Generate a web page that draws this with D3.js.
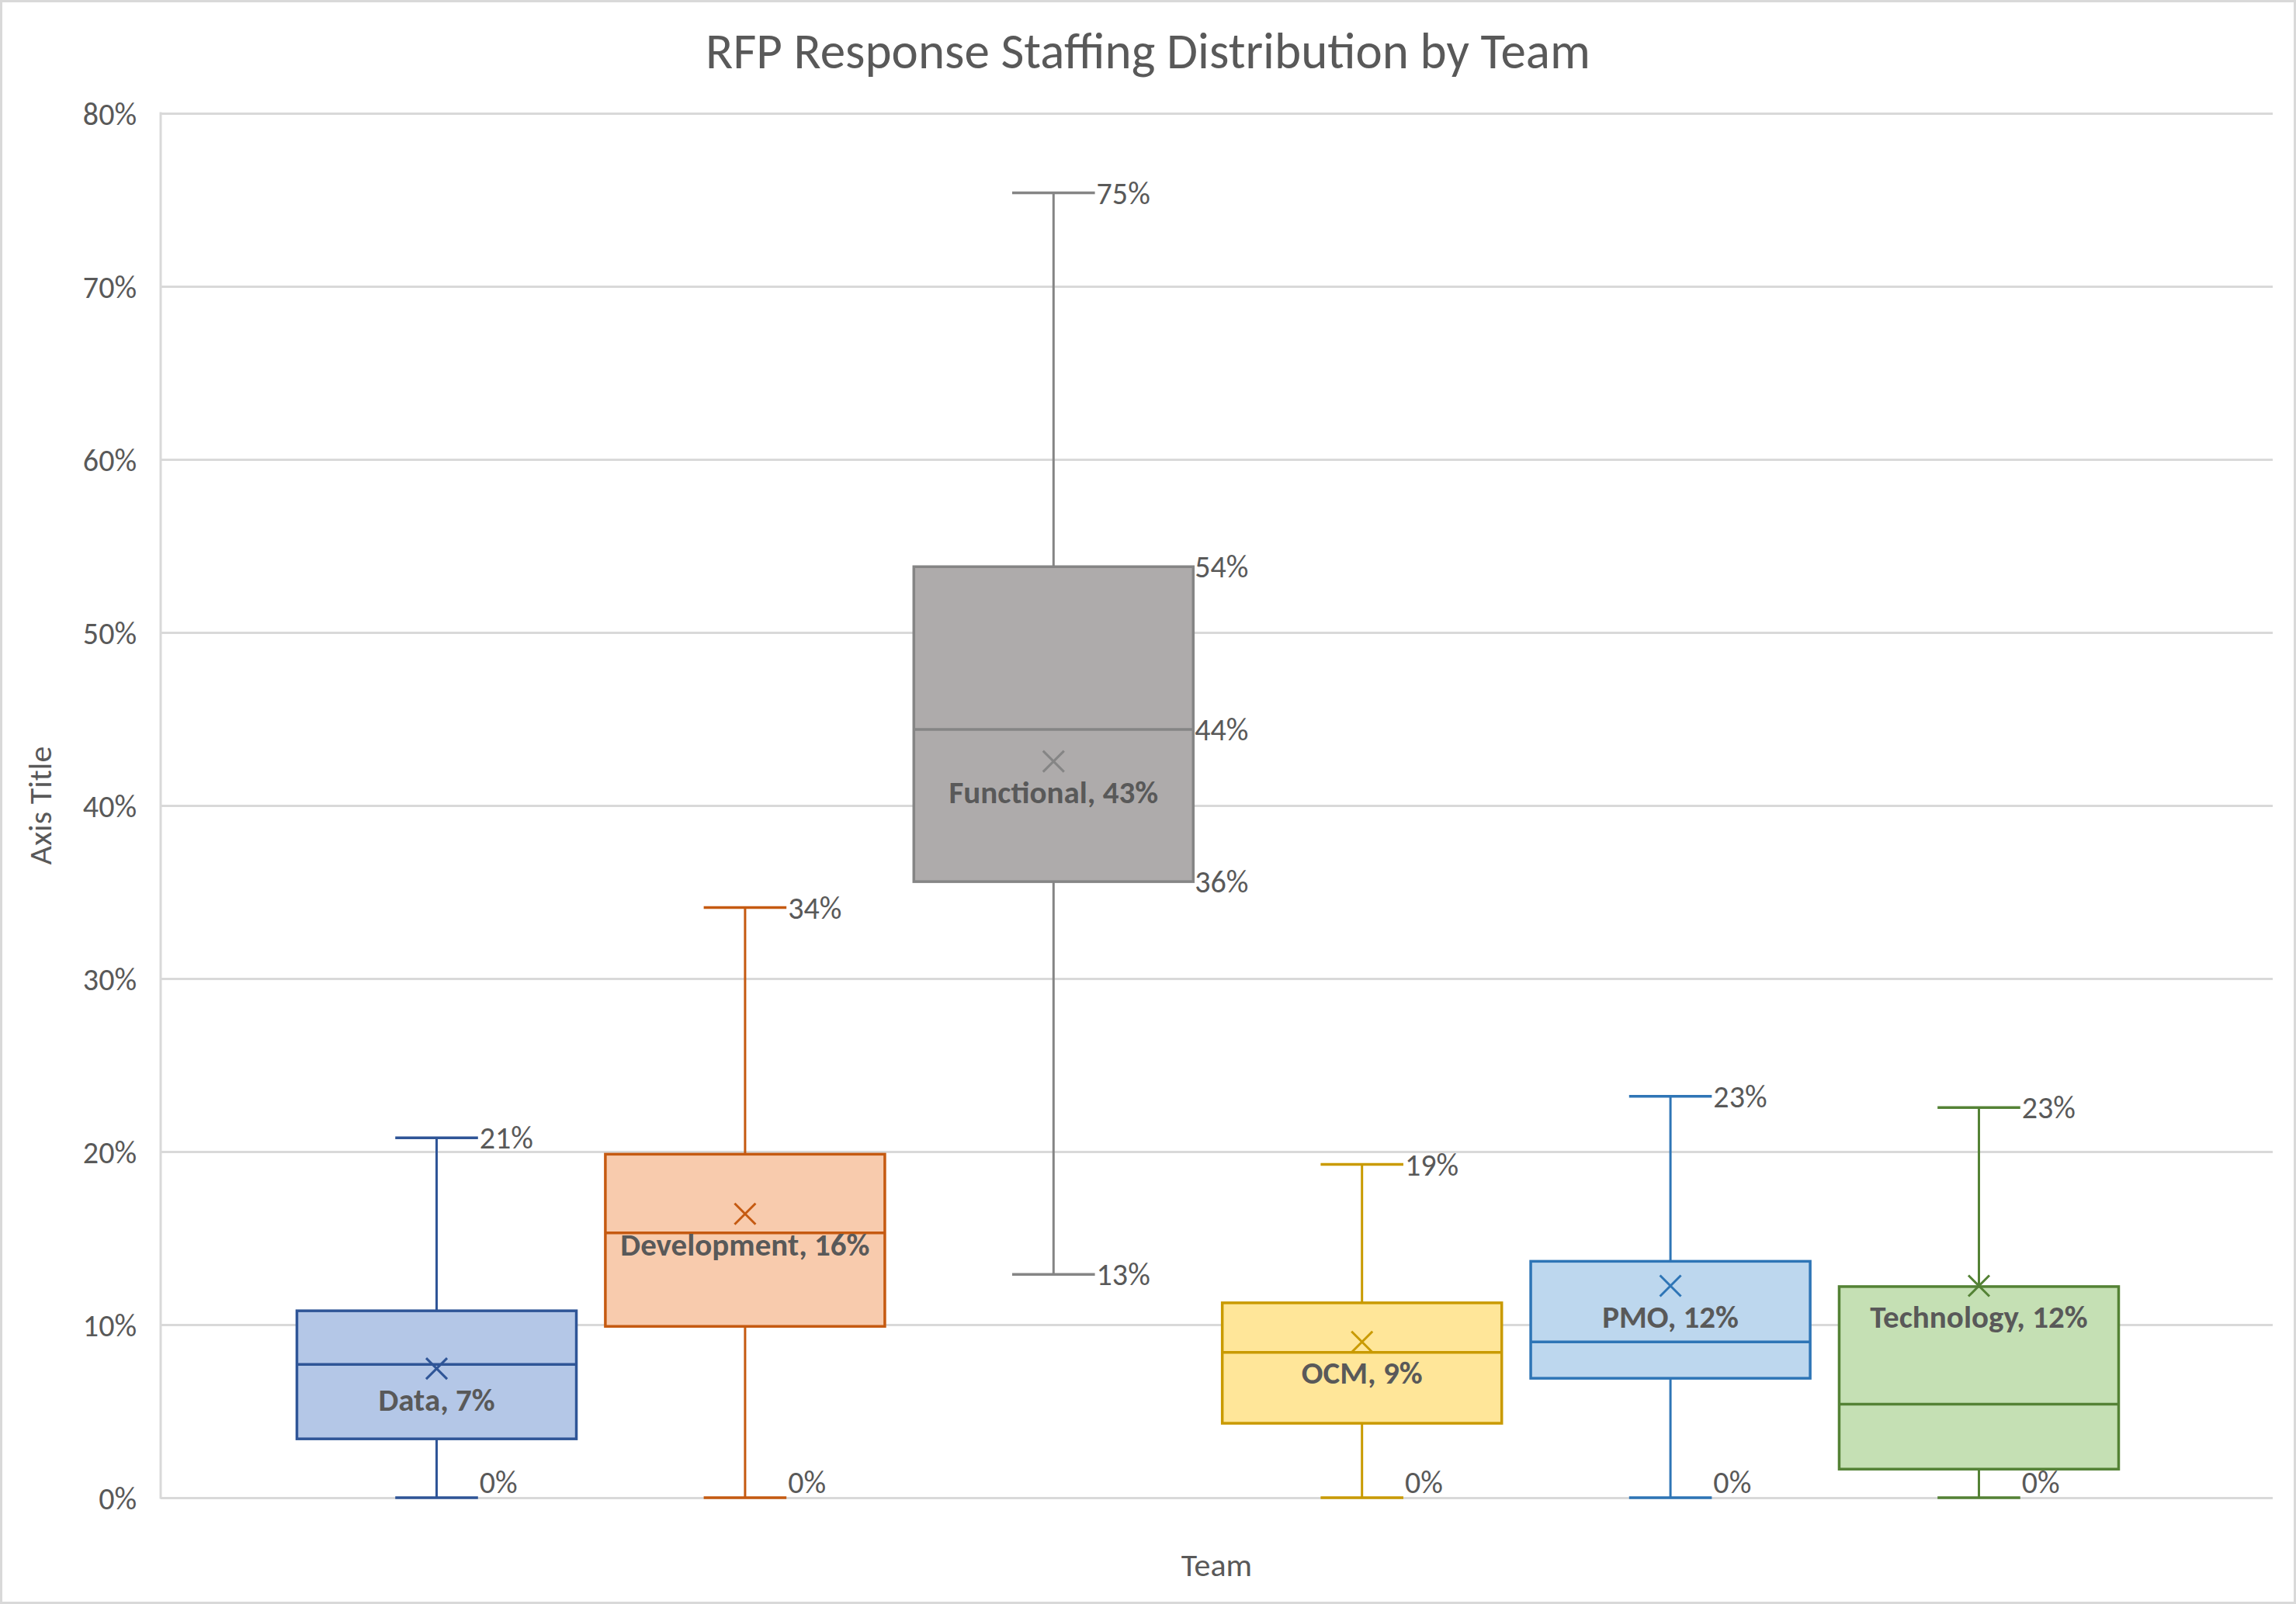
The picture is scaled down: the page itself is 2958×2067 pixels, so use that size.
<!DOCTYPE html>
<html>
<head>
<meta charset="utf-8">
<script src="https://cdn.jsdelivr.net/npm/d3@7"></script>
<style>
  html, body { margin: 0; padding: 0; background: #ffffff; }
  svg { display: block; }
  text { font-family: Carlito, Calibri, Lato, sans-serif; fill: #595959; }
</style>
</head>
<body>
<svg id="chart" width="2958" height="2067"></svg>
<script>
// ---- data ----
const teams = ["Data", "Development", "Functional", "OCM", "PMO", "Technology"];
const minValues = [0, 0, 0.129, 0, 0, 0];
const q1Values = [0.034, 0.099, 0.356, 0.043, 0.069, 0.0165];
const medianValues = [0.077, 0.153, 0.444, 0.084, 0.090, 0.054];
const q3Values = [0.108, 0.1985, 0.538, 0.1126, 0.1366, 0.122];
const maxValues = [0.208, 0.341, 0.754, 0.1926, 0.232, 0.2255];
const meanValues = [0.0746, 0.164, 0.4255, 0.090, 0.1224, 0.1224];
const quartileLabelTeams = ["Functional"];
const yTicks = [0, 0.1, 0.2, 0.3, 0.4, 0.5, 0.6, 0.7, 0.8];
const title = "RFP Response Staffing Distribution by Team";
const xAxisTitle = "Team";
const yAxisTitle = "Axis Title";

// ---- style ----
const strokeColors = ["#2F5597", "#C55A11", "#858585", "#C99A00", "#2E75B6", "#548235"];
const fillColors = ["#B4C7E7", "#F8CBAD", "#AEABAB", "#FFE699", "#BDD7EE", "#C5E0B4"];
const W = 2958, H = 2067;
const plot = { left: 207, right: 2928, top: 146, bottom: 1930 };
const boxRange = [382.5, 2729.5];
const fs = 40;
const fsBold = 41;

const svg = d3.select("#chart");
const pct = d3.format(".0%");

// outer border
svg.append("rect").attr("x", 1.5).attr("y", 1.5).attr("width", W - 3).attr("height", H - 3)
  .attr("fill", "#fff").attr("stroke", "#d9d9d9").attr("stroke-width", 3);

const y = d3.scaleLinear().domain([0, 0.8]).range([plot.bottom, plot.top]);
const x = d3.scaleBand().domain(teams).range(boxRange).paddingInner(0.094).paddingOuter(0);

// y axis with gridlines
const yAxis = d3.axisLeft(y).tickValues(yTicks).tickFormat(pct)
  .tickSize(-(plot.right - plot.left)).tickPadding(31);
const gy = svg.append("g").attr("transform", `translate(${plot.left},0)`).call(yAxis);
gy.select(".domain").remove();
gy.selectAll(".tick line").attr("stroke", "#d9d9d9").attr("stroke-width", 3);
gy.selectAll(".tick text").attr("font-size", fs).attr("fill", "#595959")
  .attr("font-family", "Carlito, Calibri, Lato, sans-serif").attr("dy", "0.35em");
svg.append("line").attr("x1", plot.left).attr("x2", plot.left)
  .attr("y1", plot.top - 1.5).attr("y2", plot.bottom + 1.5)
  .attr("stroke", "#d9d9d9").attr("stroke-width", 3);

// titles
svg.append("text").attr("x", W / 2).attr("y", 88).attr("text-anchor", "middle")
  .attr("font-size", 65).text(title);
svg.append("text").attr("x", (plot.left + plot.right) / 2).attr("y", 2031)
  .attr("text-anchor", "middle").attr("font-size", 42).text(xAxisTitle);
svg.append("text").attr("transform", `translate(66,${(plot.top + plot.bottom) / 2}) rotate(-90)`)
  .attr("text-anchor", "middle").attr("font-size", 42).text(yAxisTitle);

// boxes
const rows = teams.map((t, i) => ({
  team: t, i, min: minValues[i], q1: q1Values[i], median: medianValues[i],
  q3: q3Values[i], max: maxValues[i], mean: meanValues[i]
}));

const bw = x.bandwidth();
const capHalf = bw * 0.148;
const g = svg.append("g");

rows.forEach(d => {
  const cx = x(d.team) + bw / 2;
  const sc = strokeColors[d.i];
  const gg = g.append("g");
  // whiskers
  gg.append("line").attr("x1", cx).attr("x2", cx).attr("y1", y(d.max)).attr("y2", y(d.q3))
    .attr("stroke", sc).attr("stroke-width", 3);
  gg.append("line").attr("x1", cx).attr("x2", cx).attr("y1", y(d.q1)).attr("y2", y(d.min))
    .attr("stroke", sc).attr("stroke-width", 3);
  [d.max, d.min].forEach(v => {
    gg.append("line").attr("x1", cx - capHalf).attr("x2", cx + capHalf)
      .attr("y1", y(v)).attr("y2", y(v)).attr("stroke", sc).attr("stroke-width", 3.5);
  });
  // box
  gg.append("rect").attr("x", x(d.team)).attr("y", y(d.q3)).attr("width", bw)
    .attr("height", y(d.q1) - y(d.q3)).attr("fill", fillColors[d.i])
    .attr("stroke", sc).attr("stroke-width", 3.5);
  gg.append("line").attr("x1", x(d.team)).attr("x2", x(d.team) + bw)
    .attr("y1", y(d.median)).attr("y2", y(d.median)).attr("stroke", sc).attr("stroke-width", 3.5);
  // mean marker
  const m = 13.5, my = y(d.mean);
  gg.append("path").attr("d", `M${cx - m},${my - m}L${cx + m},${my + m}M${cx - m},${my + m}L${cx + m},${my - m}`)
    .attr("stroke", sc).attr("stroke-width", 3).attr("fill", "none");

  // labels for whisker ends
  const labelY = v => Math.min(y(v) + 14, y(0) - 6);
  [d.max, d.min].forEach(v => {
    gg.append("text").attr("x", cx + capHalf + 2).attr("y", labelY(v))
      .attr("font-size", fs).text(pct(v));
  });
  if (quartileLabelTeams.includes(d.team)) {
    [d.q3, d.median, d.q1].forEach(v => {
      gg.append("text").attr("x", x(d.team) + bw + 2).attr("y", y(v) + 14)
        .attr("font-size", fs).text(pct(v));
    });
  }
  // mean label
  gg.append("text").attr("x", cx).attr("y", my + 54).attr("text-anchor", "middle")
    .attr("font-size", fsBold).attr("font-weight", "bold").text(`${d.team}, ${pct(d.mean)}`);
});
</script>
</body>
</html>
